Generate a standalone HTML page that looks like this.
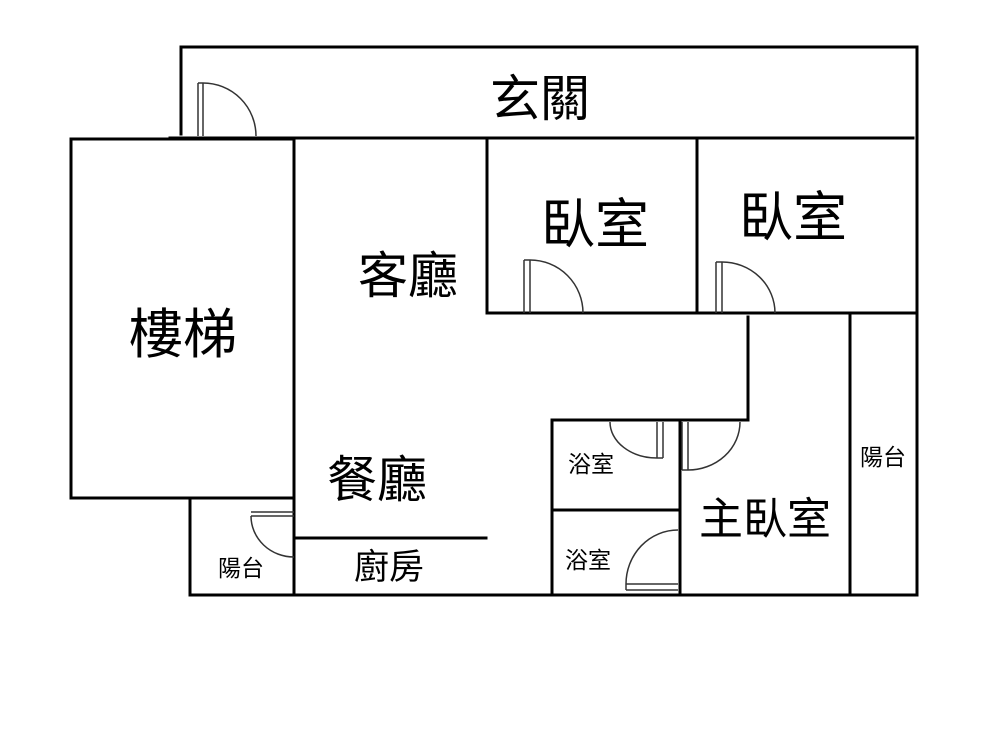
<!DOCTYPE html>
<html><head><meta charset="utf-8"><style>
html,body{margin:0;padding:0;background:#fff;width:1000px;height:750px;overflow:hidden}
text{font-family:"Liberation Sans","Noto Sans CJK TC",sans-serif;fill:#000;text-anchor:middle}
</style></head><body>
<svg width="1000" height="750" viewBox="0 0 1000 750" xmlns="http://www.w3.org/2000/svg">
<g stroke="#000" stroke-width="3" fill="none" stroke-linecap="square">
<path d="M181 47 H917 V595"/>
<path d="M181 47 V134"/>
<path d="M170 138 H913"/>
<rect x="71" y="139" width="223" height="359"/>
<path d="M294 139 V595"/>
<path d="M487 141 V313 H697"/>
<path d="M697 141 V313 H917"/>
<path d="M748 317 V420 H552 V595"/>
<path d="M680 420 V595"/>
<path d="M552 510 H680"/>
<path d="M850 313 V595"/>
<path d="M190 595 H917"/>
<path d="M190 498 V595"/>
<path d="M190 498 H294"/>
<path d="M296 538 H486"/>
</g>
<g stroke="#333" stroke-width="1.5" fill="none">
<path d="M198 83 V136 M203 83 V136 M198 83 H203"/><path d="M203 83 A53 53 0 0 1 256 136"/>
<path d="M524 260 V313 M530 260 V313 M524 260 H530"/><path d="M530 260 A53 53 0 0 1 583 313"/>
<path d="M716 262 V313 M722 262 V313 M716 262 H722"/><path d="M722 262 A53 51 0 0 1 775 313"/>
<path d="M657 422 V458 M663 422 V458 M657 458 H663"/><path d="M610 422 A47 36 0 0 0 657 458"/>
<path d="M682 422 V470 M688 422 V470 M682 470 H688"/><path d="M688 470 A52 48 0 0 0 740 422"/>
<path d="M626 584 H678 M626 590 H678 M626 584 V590"/><path d="M626 584 A52 54 0 0 1 678 530"/>
<path d="M251 512 H294 M251 516 H294"/><path d="M251 516 A43 41 0 0 0 294 557"/>
</g>
<text x="540" y="116" font-size="50">玄關</text>
<text x="595" y="243" font-size="54">臥室</text>
<text x="793" y="236" font-size="54">臥室</text>
<text x="408" y="293" font-size="50">客廳</text>
<text x="183" y="353" font-size="54">樓梯</text>
<text x="377" y="497" font-size="50">餐廳</text>
<text x="389" y="579" font-size="35">廚房</text>
<text x="241" y="576" font-size="23">陽台</text>
<text x="591" y="472" font-size="23">浴室</text>
<text x="588" y="568" font-size="23">浴室</text>
<text x="765" y="534" font-size="44">主臥室</text>
<text x="883" y="465" font-size="23">陽台</text>
</svg>
</body></html>
